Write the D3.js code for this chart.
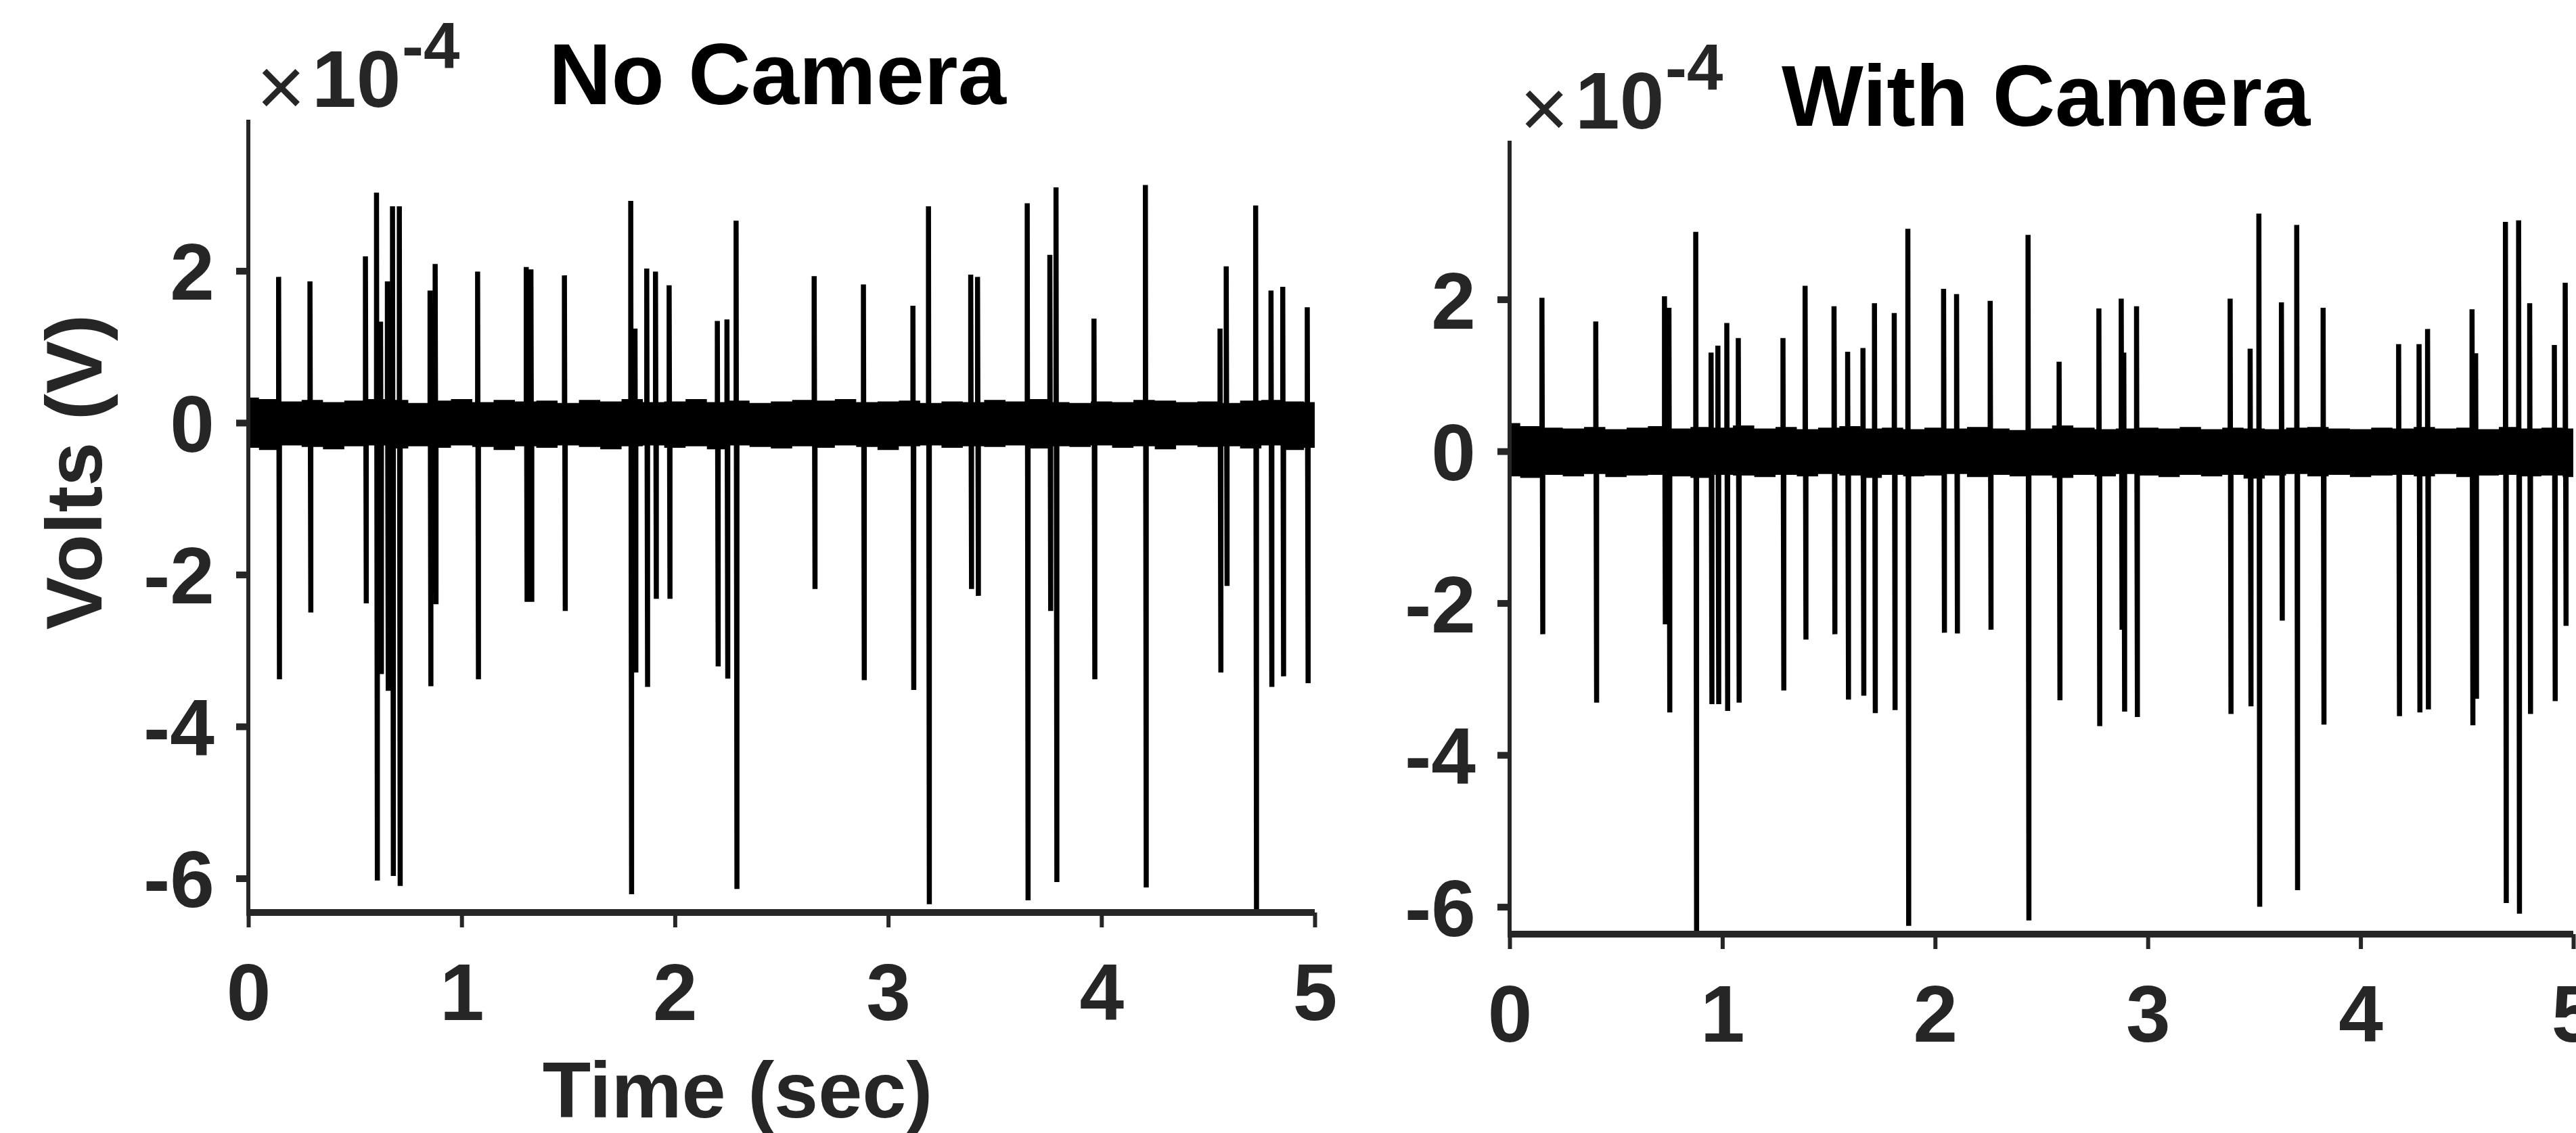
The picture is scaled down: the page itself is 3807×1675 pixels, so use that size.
<!DOCTYPE html>
<html>
<head>
<meta charset="utf-8">
<script src="https://cdnjs.cloudflare.com/ajax/libs/d3/7.8.5/d3.min.js"></script>
<style>
  body { margin: 0; background: #fff; }
  text { font-family: "Liberation Sans", Arial, sans-serif; }
</style>
</head>
<body>
<script>
// ---- data (volts, in units of 1e-4) ----
const xTicks = [0, 1, 2, 3, 4, 5];
const yTicks = [-6, -4, -2, 0, 2];

// No Camera: spike time (s), positive peak, negative trough
const noCamT = [0.142, 0.289, 0.549, 0.601, 0.620, 0.652, 0.676, 0.708, 0.852, 0.876,
  1.075, 1.303, 1.325, 1.482, 1.793, 1.813, 1.868, 1.909, 1.973, 2.199,
  2.244, 2.287, 2.653, 2.884, 3.116, 3.189, 3.387, 3.419, 3.652, 3.758,
  3.787, 3.965, 4.206, 4.556, 4.585, 4.723, 4.795, 4.850, 4.965];
const noCamUp = [1.92, 1.86, 2.19, 3.03, 1.33, 1.86, 2.85, 2.85, 1.74, 2.09,
  1.99, 2.05, 2.02, 1.94, 2.92, 1.24, 2.03, 1.99, 1.81, 1.34,
  1.36, 2.66, 1.93, 1.82, 1.54, 2.85, 1.95, 1.92, 2.89, 2.21,
  3.10, 1.37, 3.13, 1.24, 2.06, 2.86, 1.74, 1.79, 1.52];
const noCamDown = [-3.38, -2.50, -2.38, -6.03, -3.31, -3.53, -5.97, -6.10, -3.47, -2.39,
  -3.38, -2.36, -2.36, -2.48, -6.21, -3.29, -3.48, -2.32, -2.32, -3.21,
  -3.37, -6.14, -2.19, -3.39, -3.52, -6.34, -2.19, -2.28, -6.29, -2.48,
  -6.05, -3.38, -6.12, -3.29, -2.15, -6.41, -3.48, -3.34, -3.43];

// With Camera
const camT = [0.152, 0.405, 0.728, 0.749, 0.875, 0.947, 0.979, 1.021, 1.075, 1.285,
  1.389, 1.525, 1.589, 1.661, 1.715, 1.808, 1.872, 2.040, 2.101, 2.259,
  2.437, 2.583, 2.770, 2.875, 2.887, 2.947, 3.387, 3.481, 3.522, 3.628,
  3.700, 3.824, 4.179, 4.275, 4.315, 4.524, 4.541, 4.681, 4.743, 4.795,
  4.911, 4.962];
const camUp = [2.02, 1.71, 2.04, 1.89, 2.89, 1.30, 1.39, 1.69, 1.49, 1.49,
  2.18, 1.91, 1.31, 1.36, 1.95, 1.82, 2.93, 2.14, 2.07, 1.98,
  2.85, 1.18, 1.88, 2.01, 1.30, 1.91, 2.01, 1.35, 3.13, 1.96,
  2.98, 1.89, 1.41, 1.41, 1.61, 1.87, 1.29, 3.02, 3.04, 1.95,
  1.40, 2.22];
const camDown = [-2.41, -3.31, -2.28, -3.44, -6.39, -3.33, -3.33, -3.42, -3.31, -3.15,
  -2.48, -2.41, -3.27, -3.22, -3.45, -3.41, -6.25, -2.39, -2.40, -2.35,
  -6.18, -3.28, -3.62, -2.35, -3.43, -3.50, -3.46, -3.36, -6.00, -2.23,
  -5.78, -3.60, -3.49, -3.44, -3.40, -3.61, -3.26, -5.95, -6.09, -3.46,
  -3.29, -2.30];

// background noise envelope, sampled every 0.1 s
const envT = d3.range(0, 5.05, 0.1);
const noCamNoiseHi = [0.33, 0.31, 0.28, 0.30, 0.27, 0.29, 0.31, 0.30, 0.26, 0.29,
  0.31, 0.27, 0.30, 0.28, 0.29, 0.26, 0.30, 0.28, 0.31, 0.27,
  0.28, 0.31, 0.27, 0.29, 0.26, 0.28, 0.30, 0.29, 0.31, 0.27,
  0.28, 0.29, 0.26, 0.28, 0.27, 0.30, 0.28, 0.31, 0.27, 0.26,
  0.28, 0.27, 0.30, 0.29, 0.27, 0.28, 0.26, 0.29, 0.30, 0.28, 0.27];
const noCamNoiseLo = [-0.33, -0.36, -0.30, -0.32, -0.35, -0.31, -0.30, -0.34, -0.31, -0.33,
  -0.30, -0.32, -0.36, -0.31, -0.33, -0.30, -0.32, -0.35, -0.31, -0.30,
  -0.33, -0.31, -0.35, -0.30, -0.32, -0.34, -0.31, -0.33, -0.30, -0.32,
  -0.36, -0.31, -0.30, -0.33, -0.31, -0.32, -0.30, -0.34, -0.31, -0.32,
  -0.30, -0.33, -0.31, -0.35, -0.30, -0.32, -0.31, -0.34, -0.30, -0.36, -0.33];
const camNoiseHi = [0.37, 0.33, 0.31, 0.30, 0.32, 0.29, 0.31, 0.33, 0.30, 0.32,
  0.31, 0.34, 0.30, 0.32, 0.29, 0.31, 0.33, 0.30, 0.31, 0.29,
  0.31, 0.30, 0.32, 0.30, 0.28, 0.30, 0.34, 0.31, 0.29, 0.30,
  0.31, 0.30, 0.32, 0.29, 0.31, 0.30, 0.29, 0.31, 0.32, 0.30,
  0.29, 0.31, 0.30, 0.32, 0.30, 0.31, 0.29, 0.32, 0.30, 0.31, 0.30];
const camNoiseLo = [-0.33, -0.35, -0.31, -0.33, -0.30, -0.34, -0.32, -0.31, -0.33, -0.35,
  -0.31, -0.32, -0.34, -0.31, -0.33, -0.30, -0.32, -0.35, -0.31, -0.33,
  -0.32, -0.30, -0.34, -0.31, -0.33, -0.32, -0.35, -0.31, -0.33, -0.30,
  -0.32, -0.34, -0.31, -0.33, -0.31, -0.36, -0.32, -0.30, -0.33, -0.31,
  -0.34, -0.32, -0.31, -0.33, -0.30, -0.34, -0.32, -0.31, -0.33, -0.32, -0.34];

const w = 3807;
const h = 1675;
const axisColor = "#262626";
const tickFont = "118px";

const svg = d3.select("body")
              .append("svg")
              .attr("width", w)
              .attr("height", h);

function drawPanel(p) {
  const xScale = d3.scaleLinear().domain([0, 5]).range([p.x0, p.x1]);
  const yScale = d3.scaleLinear().domain(p.yDom).range([p.yBot, p.yTop]);

  // noise band
  const band = envT.map((t, i) => [t, p.hi[i], p.lo[i]]);
  svg.append("path")
     .datum(band)
     .attr("fill", "#000")
     .attr("d", d3.area()
                  .curve(d3.curveStep)
                  .x(d => xScale(d[0]))
                  .y0(d => yScale(d[2]))
                  .y1(d => yScale(d[1])));

  // spikes: baseline -> peak -> trough -> baseline
  const pts = [[0, 0]];
  p.t.forEach(function(t, i) {
    pts.push([t, 0], [t, p.up[i]], [t + 0.004, p.down[i]], [t + 0.004, 0]);
  });
  pts.push([5, 0]);
  svg.append("path")
     .datum(pts)
     .attr("fill", "none")
     .attr("stroke", "#000")
     .attr("stroke-width", 7.5)
     .attr("stroke-linejoin", "bevel")
     .attr("d", d3.line().x(d => xScale(d[0])).y(d => yScale(d[1])));

  // x axis
  const gx = svg.append("g")
     .attr("transform", "translate(0," + p.yBot + ")")
     .call(d3.axisBottom(xScale).tickValues(xTicks).tickSize(22).tickSizeOuter(0).tickFormat(d3.format("d")));
  gx.select(".domain").attr("stroke", axisColor).attr("stroke-width", 10)
    .attr("d", "M" + (p.x0 - 3) + ",0H" + p.x1);
  gx.selectAll(".tick line").attr("stroke", axisColor).attr("stroke-width", 6);
  gx.selectAll(".tick text")
    .attr("y", 159).attr("dy", null)
    .attr("fill", axisColor)
    .style("font-size", tickFont).style("font-weight", "bold")
    .style("font-family", "'Liberation Sans', Arial, sans-serif");

  // y axis
  const gy = svg.append("g")
     .attr("transform", "translate(" + p.x0 + ",0)")
     .call(d3.axisLeft(yScale).tickValues(yTicks).tickSize(18).tickSizeOuter(0).tickFormat(d => String(d)));
  gy.select(".domain").attr("stroke", axisColor).attr("stroke-width", 6)
    .attr("d", "M0," + p.yTop + "V" + (p.yBot + 5));
  gy.selectAll(".tick line").attr("stroke", axisColor).attr("stroke-width", 10);
  gy.selectAll(".tick text")
    .attr("x", -50).attr("dy", "0.36em")
    .attr("fill", axisColor)
    .style("font-size", tickFont).style("font-weight", "bold")
    .style("font-family", "'Liberation Sans', Arial, sans-serif");

  // x10^-4 exponent
  svg.append("text").attr("x", p.ex).attr("y", p.ey + 13)
     .attr("fill", axisColor).style("font-size", "124px").text("\u00d7");
  svg.append("text").attr("x", p.ex + 82).attr("y", p.ey)
     .attr("fill", axisColor).style("font-size", tickFont).style("font-weight", "bold").text("10");
  svg.append("text").attr("x", p.ex + 215).attr("y", p.ey - 57)
     .attr("fill", axisColor).style("font-size", "96px").style("font-weight", "bold").text("-4");

  // title
  svg.append("text").attr("x", p.tx).attr("y", p.ty)
     .attr("fill", "#000").style("font-size", "128px").style("font-weight", "bold").text(p.title);
}

drawPanel({x0: 367, x1: 1943, yTop: 177, yBot: 1349, yDom: [-6.45, 3.99],
  t: noCamT, up: noCamUp, down: noCamDown, hi: noCamNoiseHi, lo: noCamNoiseLo,
  ex: 379, ey: 158, tx: 811, ty: 154, title: "No Camera"});
drawPanel({x0: 2231, x1: 3803, yTop: 208, yBot: 1381, yDom: [-6.36, 4.09],
  t: camT, up: camUp, down: camDown, hi: camNoiseHi, lo: camNoiseLo,
  ex: 2246, ey: 190, tx: 2633, ty: 186, title: "With Camera"});

// axis labels
svg.append("text")
   .attr("x", 1090).attr("y", 1652)
   .attr("text-anchor", "middle")
   .attr("fill", axisColor)
   .style("font-size", "117px").style("font-weight", "bold")
   .text("Time (sec)");

svg.append("text")
   .attr("transform", "translate(150,698) rotate(-90)")
   .attr("text-anchor", "middle")
   .attr("fill", axisColor)
   .style("font-size", "117px").style("font-weight", "bold")
   .text("Volts (V)");
</script>
</body>
</html>
